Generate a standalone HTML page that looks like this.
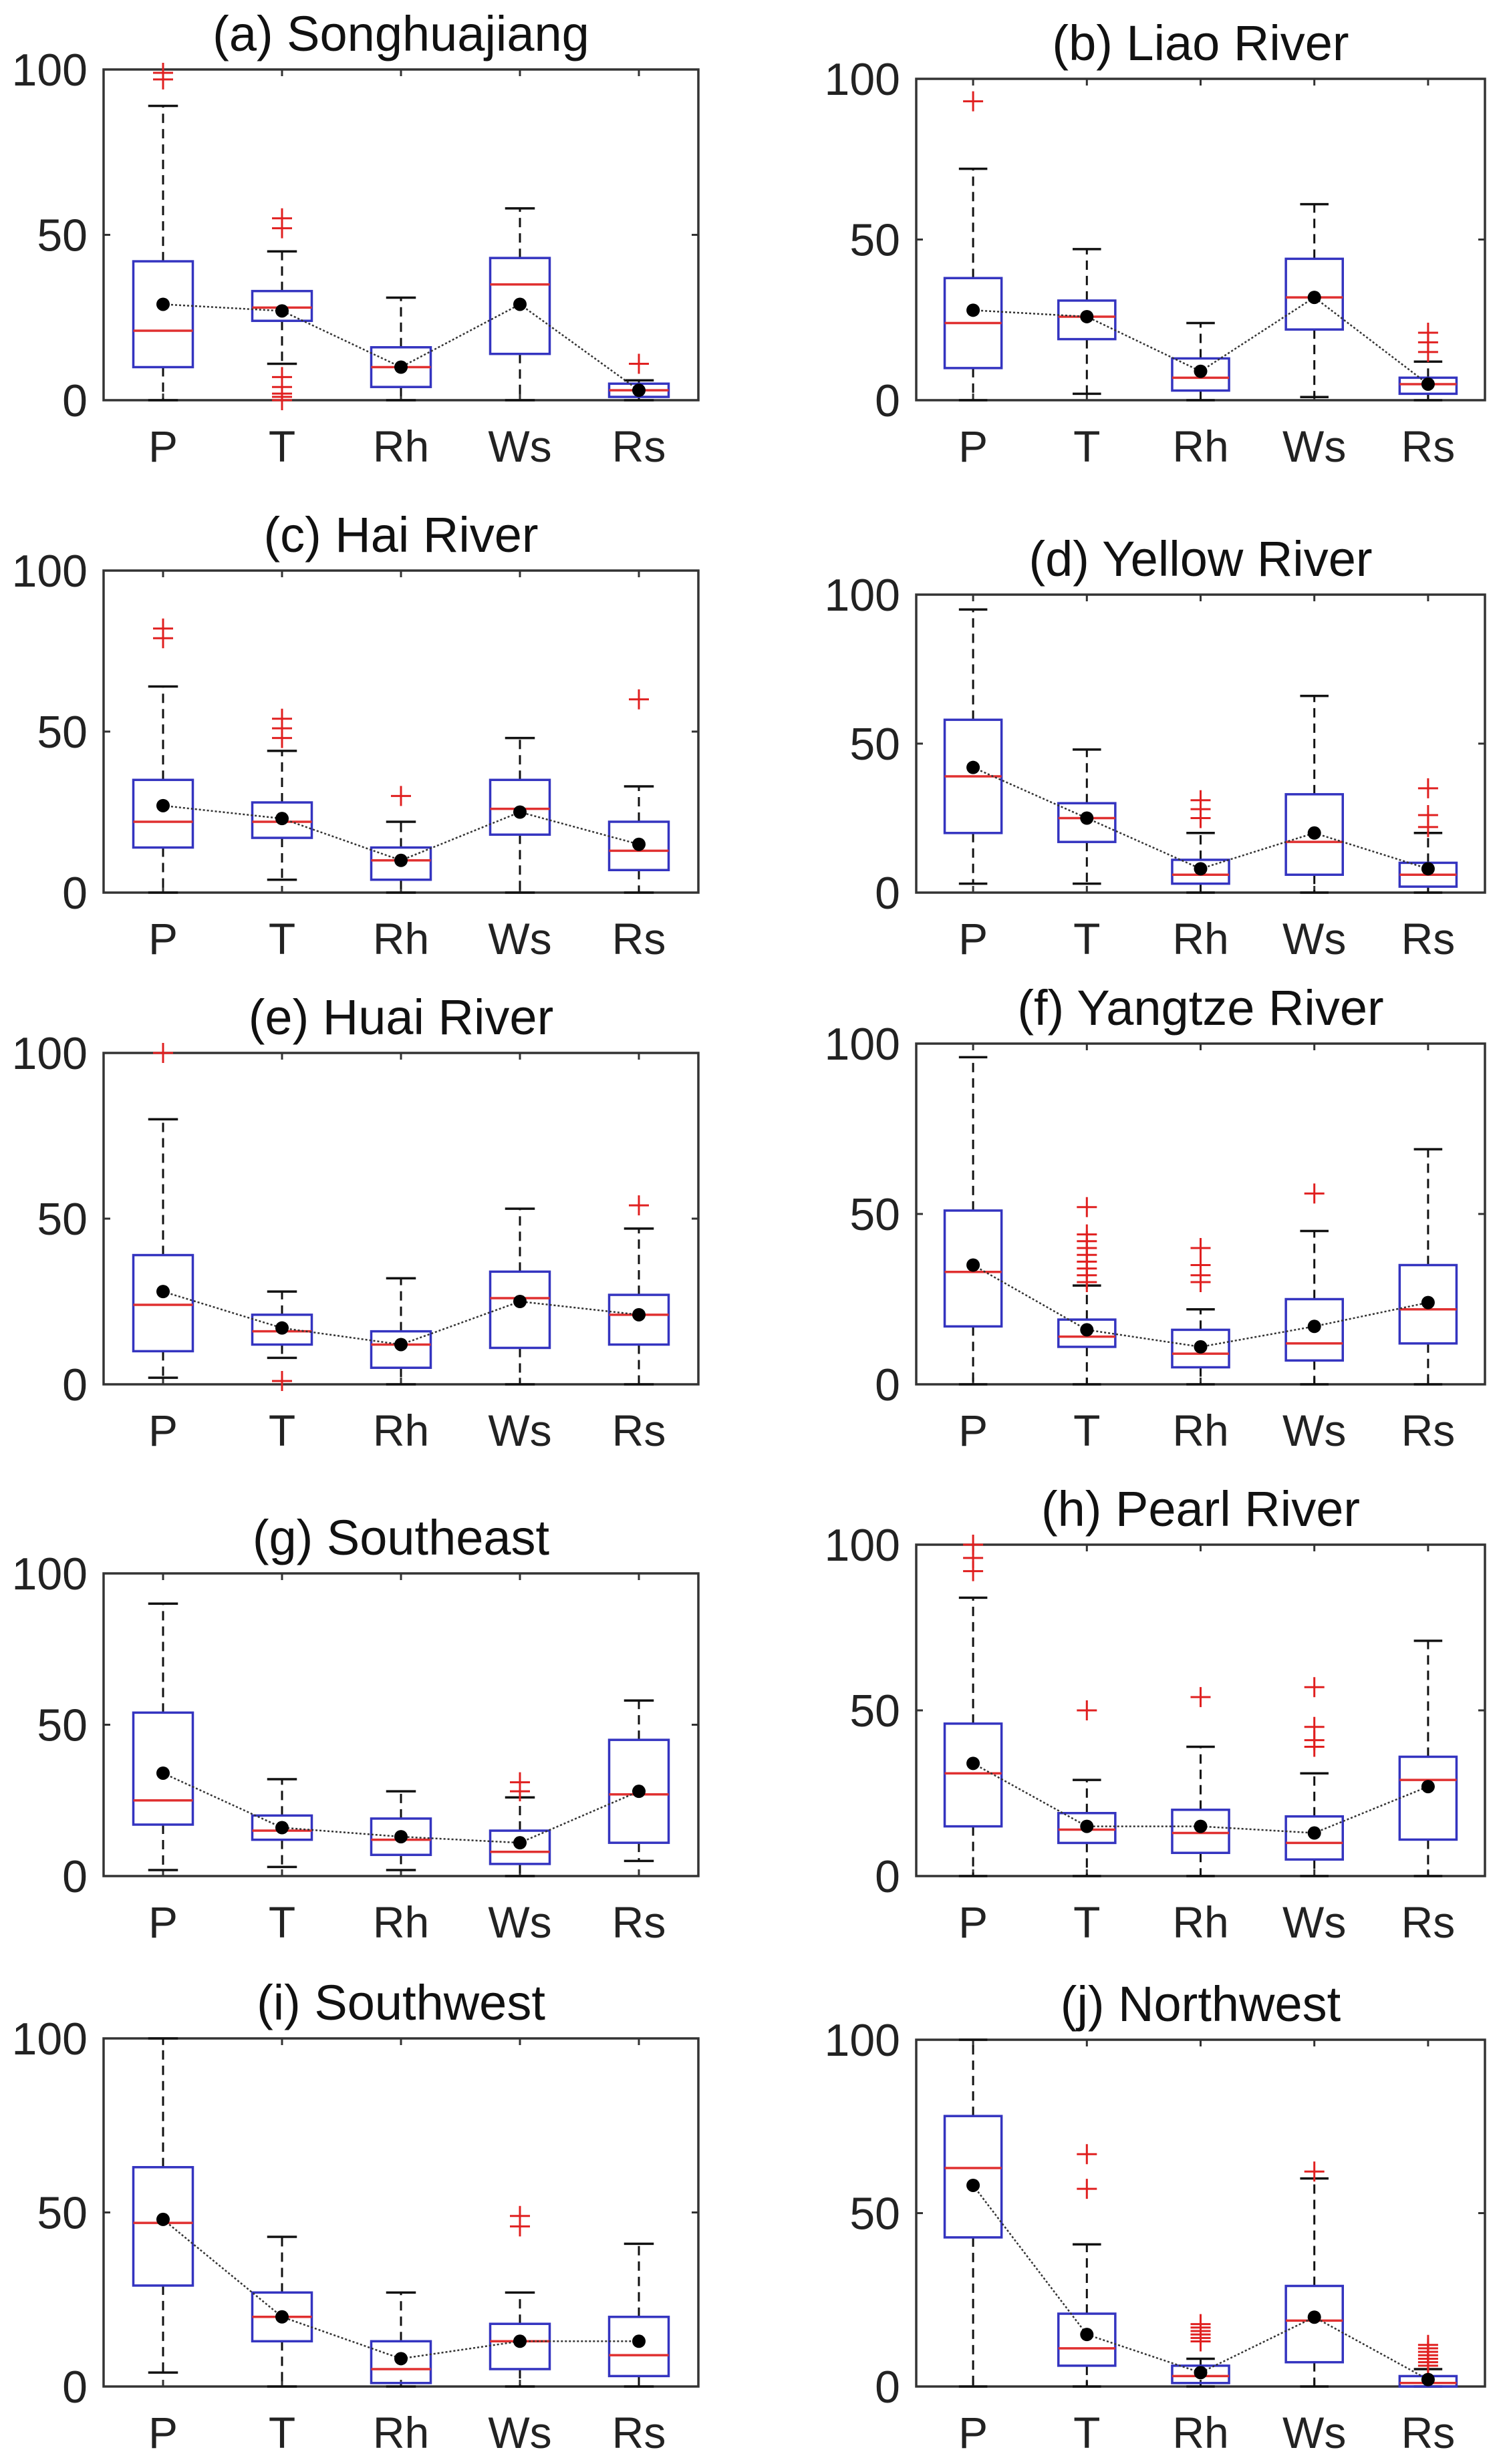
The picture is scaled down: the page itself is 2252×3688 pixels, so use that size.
<!DOCTYPE html>
<html><head><meta charset="utf-8">
<style>
html,body{margin:0;padding:0;background:#fff;}
svg{display:block;font-family:"Liberation Sans",Arial,sans-serif;}
</style></head>
<body>
<svg id="fig" width="2252" height="3688" viewBox="0 0 2252 3688" xmlns="http://www.w3.org/2000/svg"></svg>
<script>
const titles = ["(a) Songhuajiang","(b) Liao River","(c) Hai River","(d) Yellow River","(e) Huai River","(f) Yangtze River","(g) Southeast","(h) Pearl River","(i) Southwest","(j) Northwest"];
const categories = ["P","T","Rh","Ws","Rs"];
const yTicks = [0,50,100];
const whiskerHigh = [[89,45,31,58,6],[72,47,24,61,12],[64,44,22,48,33],[95,48,20,66,20],[80,28,32,53,47],[96,29,22,45,69],[90,32,28,26,58],[84,29,39,31,71],[100,43,27,27,41],[100,41,8,60,5]];
const q3 = [[42,33,16,43,5],[38,31,13,44,7],[35,28,14,35,22],[58,30,11,33,10],[39,21,16,34,27],[51,19,16,25,35],[54,20,19,15,45],[46,19,20,18,36],[63,27,13,18,20],[78,21,6,29,3]];
const median = [[21,28,10,35,3],[24,26,7,32,5],[22,22,10,26,13],[39,25,6,17,6],[24,16,12,26,21],[33,14,9,12,22],[25,15,12,8,27],[31,14,13,10,29],[47,20,5,13,9],[63,11,3,19,1]];
const q1 = [[10,24,4,14,1],[10,19,3,22,2],[14,17,4,18,7],[20,17,3,6,2],[10,12,5,11,12],[17,11,5,7,12],[17,12,7,4,11],[15,10,7,5,11],[29,13,1,5,3],[43,6,1,7,0]];
const whiskerLow = [[0,11,0,0,0],[0,2,0,1,0],[0,4,0,0,0],[3,3,0,0,0],[2,8,0,0,0],[0,0,0,0,0],[2,3,2,0,5],[0,0,0,0,0],[4,0,0,0,0],[0,0,0,0,0]];
const means = [[29,27,10,29,3],[28,26,9,32,5],[27,23,10,25,15],[42,25,8,20,8],[28,17,12,25,21],[35,16,11,17,24],[34,16,13,11,28],[34,15,15,13,27],[48,20,8,13,13],[58,15,4,20,2]];
const outliers = [
 [[97,99],[52,55,7,4,2,1,0],[],[],[11,11]],
 [[93],[],[],[],[15,18,21]],
 [[79,82],[48,51,54],[30],[],[60]],
 [[],[],[25,28,31],[],[22,26,35]],
 [[100],[1],[],[],[54]],
 [[],[30,32,34,36,38,40,42,44,52],[30,32,35,40],[56],[]],
 [[],[],[],[28,31],[]],
 [[92,96,100],[50],[54],[39,41,45,57],[]],
 [[],[],[],[46,49],[]],
 [[],[57,67],[13,14,15,16,17,18],[62],[6,7,8,9,10,11,12]]
];

// layout (pixels)
const colLeft = [155, 1371];
const colRight = [1045, 2222];
const rowTop = [104,118,854,890,1576,1562,2355,2312,3051,3053];
const rowBottom = [599,599,1336,1336,2072,2072,2808,2808,3572,3572];

const NS = "http://www.w3.org/2000/svg";
const fig = document.getElementById("fig");
function mk(tag, attrs, parent){
  const e = document.createElementNS(NS, tag);
  for (const k in attrs) e.setAttribute(k, attrs[k]);
  (parent||fig).appendChild(e);
  return e;
}

for (let p=0; p<10; p++){
  const col = p%2;
  const L = colLeft[col], R = colRight[col], T = rowTop[p], B = rowBottom[p];
  const step = (R-L)/categories.length;
  const xs = i => L + step*(i+0.5);
  const ys = v => B - (B-T)*v/100;
  const g = mk("g", {});
  
  

  const fr = mk("rect", {x:L, y:T, width:R-L, height:B-T, fill:"none", stroke:"#333", "stroke-width":3.5}, g);
  
  

  const tt = mk("text", {x:(L+R)/2, y:T-28, "font-size":74, "text-anchor":"middle", fill:"#111"}, g);
  tt.textContent = titles[p];
  
  

  yTicks.forEach(v=>{
    const y = ys(v);
    mk("line",{x1:L,x2:L+10,y1:y,y2:y,stroke:"#333","stroke-width":3},g);
    mk("line",{x1:R,x2:R-10,y1:y,y2:y,stroke:"#333","stroke-width":3},g);
    const t = mk("text",{x:L-24, y:y+24, "font-size":68, "text-anchor":"end", fill:"#222"},g);
    t.textContent = v;
    
    
  });

  categories.forEach((c,i)=>{
    const x = xs(i);
    mk("line",{x1:x,x2:x,y1:B,y2:B-10,stroke:"#333","stroke-width":3},g);
    mk("line",{x1:x,x2:x,y1:T,y2:T+10,stroke:"#333","stroke-width":3},g);
    const t = mk("text",{x:x, y:B+92, "font-size":66, "text-anchor":"middle", fill:"#222"},g);
    t.textContent = c;
    
    
  });

  const bw = step*0.5, cw = step*0.25;
  categories.forEach((c,i)=>{
    const x = xs(i);
    const bg = mk("g",{},g);
    
    
    mk("line",{x1:x,x2:x,y1:ys(q3[p][i]),y2:ys(whiskerHigh[p][i]),stroke:"#111","stroke-width":3,"stroke-dasharray":"14,9"},bg);
    mk("line",{x1:x,x2:x,y1:ys(q1[p][i]),y2:ys(whiskerLow[p][i]),stroke:"#111","stroke-width":3,"stroke-dasharray":"14,9"},bg);
    mk("line",{x1:x-cw/2,x2:x+cw/2,y1:ys(whiskerHigh[p][i]),y2:ys(whiskerHigh[p][i]),stroke:"#111","stroke-width":3.5},bg);
    mk("line",{x1:x-cw/2,x2:x+cw/2,y1:ys(whiskerLow[p][i]),y2:ys(whiskerLow[p][i]),stroke:"#111","stroke-width":3.5},bg);
    mk("rect",{x:x-bw/2,y:ys(q3[p][i]),width:bw,height:Math.max(1,ys(q1[p][i])-ys(q3[p][i])),fill:"none",stroke:"#3434c0","stroke-width":3.5},bg);
    mk("line",{x1:x-bw/2,x2:x+bw/2,y1:ys(median[p][i]),y2:ys(median[p][i]),stroke:"#e03030","stroke-width":3.5},bg);
    outliers[p][i].forEach(v=>{
      const y = ys(v);
      const o = mk("path",{d:`M${x-15},${y}H${x+15}M${x},${y-15}V${y+15}`,stroke:"#e02020","stroke-width":3,fill:"none"},bg);
      
      
    });
  });

  const pts = categories.map((c,i)=>xs(i)+","+ys(means[p][i])).join(" ");
  const ml = mk("polyline",{points:pts,fill:"none",stroke:"#333","stroke-width":2.5,"stroke-dasharray":"3,3"},g);
  
  
  categories.forEach((c,i)=>{
    const d = mk("circle",{cx:xs(i),cy:ys(means[p][i]),r:10,fill:"#000"},g);
    
    
  });
}
</script>
</body></html>
